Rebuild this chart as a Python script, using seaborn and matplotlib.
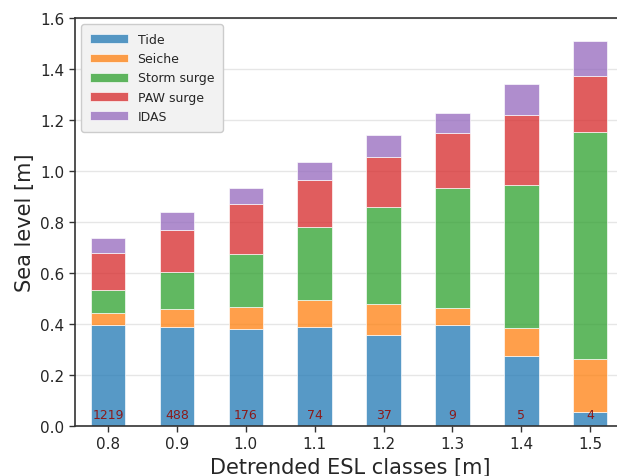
import matplotlib
matplotlib.use("Agg")
import matplotlib.pyplot as plt
import seaborn as sns
import pandas as pd
import numpy as np

classes = ["0.8", "0.9", "1.0", "1.1", "1.2", "1.3", "1.4", "1.5"]
tide = [0.395, 0.388, 0.380, 0.390, 0.358, 0.398, 0.276, 0.055]
seiche = [0.048, 0.069, 0.085, 0.103, 0.122, 0.065, 0.110, 0.209]
storm_surge = [0.090, 0.147, 0.210, 0.286, 0.379, 0.469, 0.560, 0.890]
paw_surge = [0.144, 0.165, 0.194, 0.186, 0.196, 0.217, 0.275, 0.219]
idas = [0.060, 0.069, 0.064, 0.069, 0.085, 0.078, 0.121, 0.136]
counts = [1219, 488, 176, 74, 37, 9, 5, 4]

components = ["Tide", "Seiche", "Storm surge", "PAW surge", "IDAS"]
series = [tide, seiche, storm_surge, paw_surge, idas]
colors = ["#1f77b4", "#ff7f0e", "#2ca02c", "#d62728", "#9467bd"]

sns.set_style("white")
plt.rcParams["font.family"] = ["DejaVu Sans"]

fig = plt.figure(figsize=(6.17, 4.77), dpi=100)
ax = fig.add_axes([75 / 617, 50 / 477, 551 / 617, 408 / 477])

bottom = np.zeros(len(classes))
for name, vals, col in zip(components, series, colors):
    df = pd.DataFrame({"cls": classes, "val": vals})
    sns.barplot(data=df, x="cls", y="val", order=classes, color=col, alpha=0.75,
                saturation=1, width=0.5, bottom=bottom.copy(), edgecolor="white",
                linewidth=0.6, label=name, ax=ax, errorbar=None, zorder=2)
    bottom += np.array(vals)

for i, c in enumerate(counts):
    ax.text(i, 0.045, str(c), ha="center", va="center", fontsize=9,
            color="#8b1a1a", zorder=3)

ax.set_xlim(-0.48, 7.52)
ax.set_ylim(0, 1.6)
ax.set_yticks(np.arange(0, 1.61, 0.2))
ax.set_yticklabels([f"{v:.1f}" for v in np.arange(0, 1.61, 0.2)])
ax.yaxis.grid(True, color="#e6e6e6", linewidth=1.0, zorder=0)
ax.set_axisbelow(True)
ax.tick_params(axis="both", labelsize=11, length=4, width=1, color="#333333",
               left=True, bottom=True)
ax.set_xlabel("Detrended ESL classes [m]", fontsize=15)
ax.set_ylabel("Sea level [m]", fontsize=15)
for s in ax.spines.values():
    s.set_color("#333333")
    s.set_linewidth(1.2)

leg = ax.legend(loc="upper left", fontsize=9, frameon=True, fancybox=True,
                facecolor="#f2f2f2", edgecolor="#cccccc", framealpha=1.0,
                handlelength=3.0, borderpad=0.7, labelspacing=0.5)

fig.savefig("out.png", dpi=100)
